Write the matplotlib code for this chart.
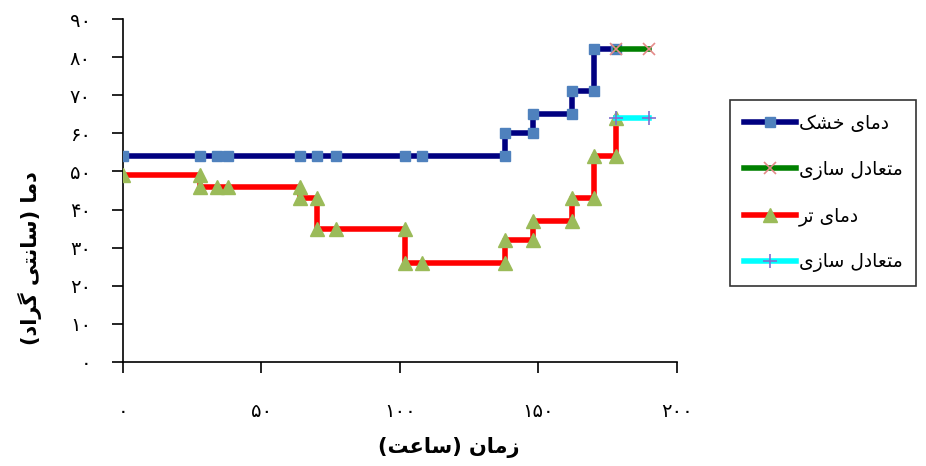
import numpy as np
import matplotlib.pyplot as plt

# Persian digits for tick labels
fa_digits = str.maketrans("0123456789", "۰۱۲۳۴۵۶۷۸۹")

# dry-bulb temperature (step profile)
dry_x = [0, 28, 34, 38, 64, 70, 77, 102, 108, 138, 138, 148, 148, 162, 162, 170, 170, 178]
dry_y = [54, 54, 54, 54, 54, 54, 54, 54, 54, 54, 60, 60, 65, 65, 71, 71, 82, 82]

# wet-bulb temperature (step profile)
wet_x = [0, 28, 28, 34, 38, 64, 64, 70, 70, 77, 102, 102, 108, 138, 138, 148, 148, 162, 162, 170, 170, 178, 178]
wet_y = [49, 49, 46, 46, 46, 46, 43, 43, 35, 35, 35, 26, 26, 26, 32, 32, 37, 37, 43, 43, 54, 54, 64]

# equilibration periods
eq_dry_x = [178, 190]
eq_dry_y = [82, 82]
eq_wet_x = [178, 190]
eq_wet_y = [64, 64]

# labels in visual order (presentation forms, right-to-left reversed)
lbl_dry = "\uFB8F\uFEB8\uFEA7 \uFEEF\uFE8E\uFEE3\uFEA9"          # دمای خشک
lbl_eq = "\uFEEF\uFEAF\uFE8E\uFEB3 \uFEDD\uFEA9\uFE8E\uFECC\uFE98\uFEE3"  # متعادل سازی
lbl_wet = "\uFEAE\uFE97 \uFEEF\uFE8E\uFEE3\uFEA9"                 # دمای تر
xlabel = "(\uFE96\uFECB\uFE8E\uFEB3) \uFEE5\uFE8E\uFEE3\uFEAF"     # زمان (ساعت)
ylabel = "(\uFEA9\uFE8D\uFEAE\uFB94 \uFEF0\uFE98\uFEE7\uFE8E\uFEB3) \uFE8E\uFEE3\uFEA9"  # دما (سانتی گراد)

fig = plt.figure(figsize=(9.26, 4.66), dpi=100)
ax = fig.add_axes([0.1328, 0.2232, 0.598, 0.736])

ax.plot(dry_x, dry_y, color="#000080", lw=4, marker="s", ms=7,
        mfc="#4F81BD", mec="#4F81BD", label=lbl_dry, zorder=3)
ax.plot(eq_dry_x, eq_dry_y, color="#008000", lw=4, marker="x", ms=9,
        mec="#E58A8A", mew=1.2, label=lbl_eq, zorder=4)
ax.plot(wet_x, wet_y, color="#FF0000", lw=4, marker="^", ms=10,
        mfc="#9BBB59", mec="#9BBB59", label=lbl_wet, zorder=3)
ax.plot(eq_wet_x, eq_wet_y, color="#00FFFF", lw=4, marker="+", ms=10,
        mec="#7F6FCF", mew=1.2, label=lbl_eq, zorder=4)

ax.set_xlim(0, 200)
ax.set_ylim(0, 90)
ax.set_xticks(np.arange(0, 201, 50))
ax.set_yticks(np.arange(0, 91, 10))
ax.set_xticklabels([str(v).translate(fa_digits) for v in range(0, 201, 50)])
ax.set_yticklabels([str(v).translate(fa_digits) for v in range(0, 91, 10)])
ax.tick_params(axis="x", direction="out", length=8, width=1.2, pad=21, labelsize=14)
ax.tick_params(axis="y", direction="out", length=8, width=1.2, pad=15, labelsize=14)
for s in ["top", "right"]:
    ax.spines[s].set_visible(False)
for s in ["left", "bottom"]:
    ax.spines[s].set_linewidth(1.2)
ax.spines["bottom"].set_bounds(0, 200)

fig.text(449 / 926, 1 - 447 / 466, xlabel, ha="center", va="center",
         fontsize=15, fontweight="bold", family="DejaVu Sans")
fig.text(30 / 926, 1 - 258 / 466, ylabel, ha="center", va="center",
         rotation=90, fontsize=15, fontweight="bold", family="DejaVu Sans")

leg = fig.legend(loc="upper left", bbox_to_anchor=(721 / 926, 1 - 91 / 466),
                 fontsize=13.5, frameon=True, fancybox=False, edgecolor="black",
                 handlelength=2.8, labelspacing=1.42, borderpad=0.72, handletextpad=0.15)
leg.get_frame().set_linewidth(1.2)

fig.savefig("out.png", dpi=100)
